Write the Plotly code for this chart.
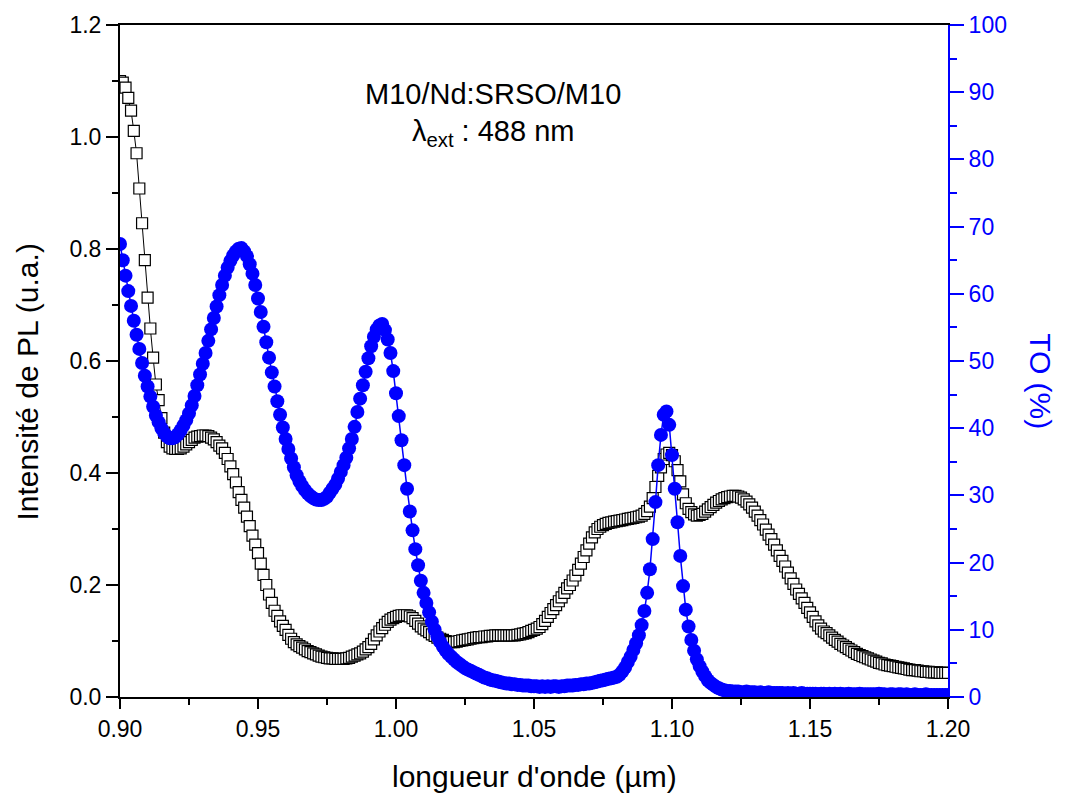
import plotly.graph_objects as go

# Sampling grid of the measurement (nm), converted to µm
wavelength_nm = list(range(900, 1201))
wavelength_um = [w / 1000.0 for w in wavelength_nm]

# PL intensity (u.a.), left axis, one value per nm from 900 to 1200 nm
pl_intensity = [
    1.100, 1.097, 1.088, 1.070, 1.047, 1.011, 0.971, 0.908, 0.846, 0.780,
    0.713, 0.658, 0.606, 0.558, 0.530, 0.498, 0.472, 0.455, 0.447, 0.444,
    0.443, 0.443, 0.444, 0.447, 0.451, 0.455, 0.459, 0.463, 0.465, 0.466,
    0.467, 0.467, 0.466, 0.463, 0.460, 0.455, 0.449, 0.444, 0.436, 0.425,
    0.412, 0.398, 0.383, 0.366, 0.352, 0.338, 0.322, 0.305, 0.288, 0.272,
    0.257, 0.238, 0.218, 0.200, 0.183, 0.168, 0.154, 0.145, 0.135, 0.127,
    0.120, 0.111, 0.104, 0.098, 0.094, 0.091, 0.088, 0.085, 0.082, 0.080,
    0.078, 0.076, 0.074, 0.072, 0.071, 0.070, 0.069, 0.069, 0.068, 0.068,
    0.068, 0.068, 0.069, 0.070, 0.072, 0.074, 0.076, 0.078, 0.081, 0.085,
    0.089, 0.095, 0.103, 0.110, 0.117, 0.123, 0.129, 0.134, 0.138, 0.141,
    0.143, 0.145, 0.146, 0.146, 0.146, 0.144, 0.141, 0.136, 0.131, 0.126,
    0.122, 0.119, 0.116, 0.112, 0.109, 0.106, 0.104, 0.102, 0.100, 0.098,
    0.098, 0.098, 0.099, 0.100, 0.101, 0.102, 0.103, 0.104, 0.105, 0.106,
    0.107, 0.107, 0.108, 0.108, 0.109, 0.109, 0.110, 0.110, 0.110, 0.110,
    0.110, 0.110, 0.110, 0.110, 0.111, 0.112, 0.113, 0.114, 0.116, 0.118,
    0.120, 0.122, 0.125, 0.130, 0.136, 0.143, 0.150, 0.157, 0.164, 0.171,
    0.178, 0.186, 0.194, 0.200, 0.208, 0.217, 0.227, 0.238, 0.250, 0.262,
    0.274, 0.285, 0.294, 0.300, 0.304, 0.307, 0.309, 0.311, 0.312, 0.313,
    0.314, 0.315, 0.316, 0.317, 0.318, 0.319, 0.320, 0.321, 0.322, 0.324,
    0.327, 0.332, 0.340, 0.355, 0.375, 0.395, 0.410, 0.425, 0.433, 0.436,
    0.432, 0.421, 0.405, 0.385, 0.362, 0.346, 0.336, 0.330, 0.326, 0.324,
    0.325, 0.327, 0.331, 0.335, 0.339, 0.343, 0.347, 0.350, 0.353, 0.355,
    0.357, 0.358, 0.359, 0.359, 0.358, 0.356, 0.353, 0.349, 0.344, 0.338,
    0.331, 0.324, 0.316, 0.308, 0.299, 0.290, 0.282, 0.272, 0.262, 0.252,
    0.243, 0.233, 0.222, 0.212, 0.202, 0.192, 0.184, 0.176, 0.168, 0.159,
    0.151, 0.143, 0.135, 0.128, 0.122, 0.117, 0.114, 0.110, 0.106, 0.102,
    0.099, 0.095, 0.092, 0.089, 0.086, 0.083, 0.080, 0.077, 0.075, 0.073,
    0.071, 0.069, 0.067, 0.065, 0.063, 0.061, 0.060, 0.058, 0.057, 0.056,
    0.055, 0.054, 0.053, 0.052, 0.051, 0.050, 0.049, 0.048, 0.048, 0.047,
    0.046, 0.046, 0.045, 0.045, 0.044, 0.044, 0.044, 0.043, 0.043, 0.043,
    0.043,
]

# TO (%), right axis, one value per nm from 900 to 1200 nm
to_percent = [
    67.4, 65.0, 62.7, 60.4, 58.2, 56.0, 53.9, 51.8, 49.7, 47.8,
    46.2, 44.7, 43.2, 41.9, 40.9, 40.0, 39.3, 38.8, 38.5, 38.5,
    38.7, 39.1, 39.7, 40.4, 41.2, 42.2, 43.4, 44.8, 46.4, 48.0,
    49.6, 51.2, 53.0, 54.7, 56.4, 58.1, 59.8, 61.3, 62.7, 63.9,
    64.9, 65.7, 66.3, 66.7, 66.8, 66.3, 65.6, 64.4, 63.0, 61.3,
    59.3, 57.3, 55.1, 52.8, 50.5, 48.3, 46.2, 44.0, 42.0, 40.1,
    38.4, 36.9, 35.5, 34.2, 33.0, 32.1, 31.4, 30.8, 30.3, 29.9,
    29.6, 29.4, 29.3, 29.3, 29.5, 29.8, 30.4, 31.0, 31.6, 32.5,
    33.5, 34.5, 35.6, 37.0, 38.4, 40.2, 42.4, 44.4, 46.4, 48.4,
    50.4, 52.2, 53.6, 54.7, 55.3, 55.5, 54.6, 53.2, 51.2, 48.5,
    45.2, 41.8, 38.2, 34.5, 31.0, 27.6, 24.8, 22.0, 19.6, 17.3,
    15.5, 14.0, 12.6, 11.2, 10.0, 9.0, 8.2, 7.5, 6.9, 6.4,
    6.0, 5.6, 5.2, 4.9, 4.6, 4.3, 4.1, 3.9, 3.7, 3.5,
    3.3, 3.1, 2.9, 2.8, 2.6, 2.5, 2.4, 2.3, 2.2, 2.1,
    2.0, 2.0, 1.9, 1.9, 1.8, 1.8, 1.7, 1.7, 1.7, 1.6,
    1.6, 1.6, 1.5, 1.6, 1.5, 1.6, 1.5, 1.6, 1.6, 1.5,
    1.6, 1.6, 1.7, 1.7, 1.7, 1.8, 1.8, 1.9, 1.9, 2.0,
    2.0, 2.1, 2.2, 2.3, 2.4, 2.5, 2.6, 2.7, 2.8, 2.9,
    3.0, 3.3, 3.8, 4.4, 5.2, 6.0, 7.0, 8.0, 9.2, 10.7,
    12.8, 15.5, 19.0, 23.5, 29.0, 34.5, 39.0, 42.0, 42.5, 40.5,
    36.0, 31.0, 26.0, 21.0, 16.5, 13.0, 10.5, 8.5, 6.9, 5.6,
    4.6, 3.8, 3.1, 2.5, 2.1, 1.8, 1.5, 1.3, 1.1, 1.0,
    0.9, 0.9, 0.8, 0.8, 0.8, 0.7, 0.7, 0.8, 0.7, 0.7,
    0.7, 0.6, 0.7, 0.6, 0.6, 0.7, 0.6, 0.6, 0.6, 0.6,
    0.6, 0.5, 0.6, 0.5, 0.6, 0.5, 0.5, 0.6, 0.5, 0.5,
    0.5, 0.5, 0.5, 0.4, 0.5, 0.5, 0.4, 0.5, 0.4, 0.5,
    0.4, 0.5, 0.4, 0.4, 0.5, 0.4, 0.4, 0.4, 0.5, 0.4,
    0.4, 0.4, 0.4, 0.4, 0.4, 0.5, 0.4, 0.4, 0.3, 0.4,
    0.4, 0.3, 0.4, 0.4, 0.3, 0.4, 0.3, 0.3, 0.4, 0.3,
    0.3, 0.3, 0.4, 0.3, 0.3, 0.3, 0.3, 0.3, 0.3, 0.3,
    0.3,
]

BLUE = "#0000FF"
FONT = "Liberation Sans, Arial, sans-serif"
TICK_SIZE = 23
TITLE_SIZE = 30
NOTE_SIZE = 29

fig = go.Figure()

fig.add_trace(go.Scatter(
    x=wavelength_um, y=pl_intensity, mode="lines+markers",
    line=dict(color="black", width=1),
    marker=dict(symbol="square", size=11, color="white",
                line=dict(color="black", width=1.2)),
    yaxis="y", showlegend=False,
))

fig.add_trace(go.Scatter(
    x=wavelength_um, y=to_percent, mode="lines+markers",
    line=dict(color=BLUE, width=1.5),
    marker=dict(symbol="circle", size=14, color=BLUE, line=dict(width=0)),
    yaxis="y2", showlegend=False,
))

fig.update_layout(
    width=1068, height=796,
    margin=dict(l=120, r=120, t=22, b=99),
    plot_bgcolor="white", paper_bgcolor="white",
    font=dict(family=FONT, size=TICK_SIZE, color="black"),
    xaxis=dict(
        range=[0.9, 1.2], dtick=0.05, tick0=0.9, tickformat=".2f",
        showgrid=False, zeroline=False,
        showline=True, linecolor="black", linewidth=2, mirror=True,
        ticks="outside", ticklen=10, tickwidth=1.5, tickcolor="black",
        minor=dict(dtick=0.025, ticks="outside", ticklen=6, tickwidth=1.5,
                   tickcolor="black"),
        tickfont=dict(size=TICK_SIZE, color="black"),
    ),
    yaxis=dict(
        range=[0, 1.2], dtick=0.2, tick0=0, tickformat=".1f",
        showgrid=False, zeroline=False,
        showline=True, linecolor="black", linewidth=2,
        ticks="outside", ticklen=12, tickwidth=1.5, tickcolor="black",
        minor=dict(dtick=0.1, ticks="outside", ticklen=6, tickwidth=1.5,
                   tickcolor="black"),
        tickfont=dict(size=TICK_SIZE, color="black"),
    ),
    yaxis2=dict(
        range=[0, 100], dtick=10, tick0=0,
        overlaying="y", side="right", anchor="x",
        showgrid=False, zeroline=False,
        showline=True, linecolor=BLUE, linewidth=2,
        ticks="outside", ticklen=14, tickwidth=1.5, tickcolor=BLUE,
        minor=dict(dtick=5, ticks="outside", ticklen=7, tickwidth=1.5,
                   tickcolor=BLUE),
        tickfont=dict(size=TICK_SIZE, color=BLUE),
    ),
    annotations=[
        dict(text="M10/Nd:SRSO/M10", xref="paper", yref="paper",
             x=0.4505, y=0.897, showarrow=False, xanchor="center",
             yanchor="middle", font=dict(size=NOTE_SIZE, color="black")),
        dict(text="λ<sub>ext</sub> : 488 nm", xref="paper", yref="paper",
             x=0.4505, y=0.84, showarrow=False, xanchor="center",
             yanchor="middle", font=dict(size=NOTE_SIZE, color="black")),
        dict(text="longueur d'onde (µm)", xref="paper", yref="paper",
             x=0.5, y=0, yshift=-79, showarrow=False, xanchor="center",
             yanchor="middle", font=dict(size=TITLE_SIZE, color="black")),
        dict(text="Intensité de PL (u.a.)", xref="paper", yref="paper",
             x=0, y=0.468, xshift=-92, showarrow=False, xanchor="center",
             yanchor="middle", textangle=-90,
             font=dict(size=TITLE_SIZE, color="black")),
        dict(text="TO (%)", xref="paper", yref="paper",
             x=1, y=0.47, xshift=93, showarrow=False, xanchor="center",
             yanchor="middle", textangle=90,
             font=dict(size=TITLE_SIZE, color=BLUE)),
    ],
)

fig.write_html("out.html", config={"displayModeBar": False},
               post_script="document.body.style.margin='0';")
